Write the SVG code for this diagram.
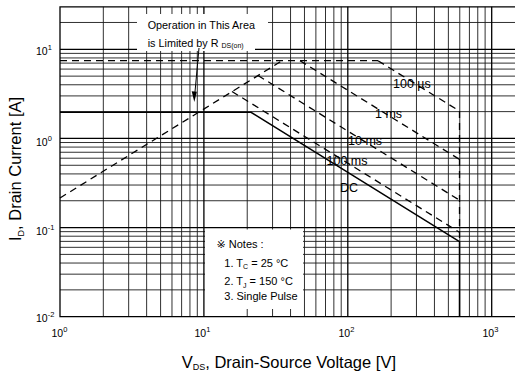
<svg xmlns="http://www.w3.org/2000/svg" width="515" height="373" viewBox="0 0 515 373">
<style>
.g{stroke:#1a1a1a;stroke-width:0.9;fill:none}
.gd{stroke:#000;stroke-width:1.3;fill:none}
.c{stroke:#000;stroke-width:1.5;fill:none}
.d{stroke:#000;stroke-width:1.3;fill:none;stroke-dasharray:7 5}
text{font-family:"Liberation Sans",Arial,"DejaVu Sans",sans-serif;fill:#000}
.t{font-size:10.5px}
.l{font-size:12.5px}
.n{font-size:11px}
.o{font-size:10.8px}
.a{font-size:16.5px}
</style>
<rect width="515" height="373" fill="#fff"/>
<g id="grid">
<path class="g" d="M103.32 6.8V316.7M128.66 6.8V316.7M146.64 6.8V316.7M160.58 6.8V316.7M171.98 6.8V316.7M181.61 6.8V316.7M189.95 6.8V316.7M197.31 6.8V316.7M247.22 6.8V316.7M272.56 6.8V316.7M290.54 6.8V316.7M304.48 6.8V316.7M315.88 6.8V316.7M325.51 6.8V316.7M333.85 6.8V316.7M341.21 6.8V316.7M391.12 6.8V316.7M416.46 6.8V316.7M434.44 6.8V316.7M448.38 6.8V316.7M459.78 6.8V316.7M469.41 6.8V316.7M477.75 6.8V316.7M485.11 6.8V316.7"/>
<path class="g" d="M60 289.87H515M60 274.17H515M60 263.04H515M60 254.4H515M60 247.34H515M60 241.38H515M60 236.21H515M60 231.65H515M60 200.74H515M60 185.04H515M60 173.91H515M60 165.27H515M60 158.21H515M60 152.25H515M60 147.08H515M60 142.52H515M60 111.61H515M60 95.91H515M60 84.78H515M60 76.14H515M60 69.08H515M60 63.12H515M60 57.95H515M60 53.39H515M60 22.48H515"/>
<path class="gd" d="M203.9 6.8V316.7M347.8 6.8V316.7M491.7 6.8V316.7M60 227.57H515M60 138.44H515M60 49.31H515"/>
<path class="gd" d="M515 6.8H60V316.7H515"/>
</g>
<g id="masks" fill="#fff">
<rect x="137" y="14" width="131" height="20"/>
<rect x="137" y="34" width="118" height="17"/>
<rect x="205" y="229.5" width="98" height="79.5"/>
</g>
<g id="connectors">
<path id="rds" class="d" d="M60 198L282 60.7"/>
<path id="idm" class="d" stroke-width="1.6" d="M60 60.7H378"/>
<path id="p100us" class="d" d="M378 60.7L459.5 111.1"/>
<path id="p1ms" class="d" d="M300 60.7L459.5 159.4"/>
<path id="p10ms" class="d" d="M258 75.5L459.5 200.2"/>
<path id="p100ms" class="d" d="M232 91.5L459.5 232.3"/>
<path id="vlim" class="d" d="M459.5 111.1V241.7"/>
<path id="dc" class="c" d="M60 112.3H251L459.5 241.7V316.7"/>
<path id="arrow" stroke="#000" stroke-width="1" fill="none" d="M199 48L194.9 93"/>
<polygon points="194.3,102 191.7,91.3 196.9,91.7" fill="#000"/>
</g>
<g id="curve-labels" class="l">
<text x="393" y="88">100 µs</text>
<text x="375" y="117.5">1 ms</text>
<text x="348" y="145">10 ms</text>
<text x="326.5" y="165">100 ms</text>
<text x="340" y="192">DC</text>
</g>
<g id="rds-note" class="o">
<text x="147.7" y="29.3">Operation in This Area</text>
<text x="147.7" y="46.7">is Limited by R <tspan font-size="7" dy="1.5">DS(on)</tspan></text>
</g>
<g id="notes" class="n">
<text x="216.5" y="247.7">※ Notes :</text>
<text x="224.3" y="266.7">1. T<tspan font-size="7" dy="2.5">C</tspan><tspan dy="-2.5"> = 25 °C</tspan></text>
<text x="224.3" y="285">2. T<tspan font-size="7" dy="2.5">J</tspan><tspan dy="-2.5"> = 150 °C</tspan></text>
<text x="224.3" y="300">3. Single Pulse</text>
</g>
<g id="y-ticks" class="t">
<text x="36" y="55">10<tspan font-size="7.5" dy="-5">1</tspan></text>
<text x="36" y="146">10<tspan font-size="7.5" dy="-5">0</tspan></text>
<text x="36" y="235">10<tspan font-size="7.5" dy="-5">-1</tspan></text>
<text x="36" y="322">10<tspan font-size="7.5" dy="-5">-2</tspan></text>
</g>
<g id="x-ticks" class="t">
<text x="51.5" y="336.7">10<tspan font-size="7.5" dy="-5">0</tspan></text>
<text x="194.5" y="336.7">10<tspan font-size="7.5" dy="-5">1</tspan></text>
<text x="338.5" y="336.7">10<tspan font-size="7.5" dy="-5">2</tspan></text>
<text x="482.5" y="336.7">10<tspan font-size="7.5" dy="-5">3</tspan></text>
</g>
<g id="axis-titles" class="a">
<text x="181.7" y="367.7">V<tspan font-size="9" dy="2.5">DS</tspan><tspan dy="-2.5">, Drain-Source Voltage [V]</tspan></text>
<text transform="translate(21,241) rotate(-90)">I<tspan font-size="9" dy="2.5">D</tspan><tspan dy="-2.5">, Drain Current [A]</tspan></text>
</g>
</svg>
